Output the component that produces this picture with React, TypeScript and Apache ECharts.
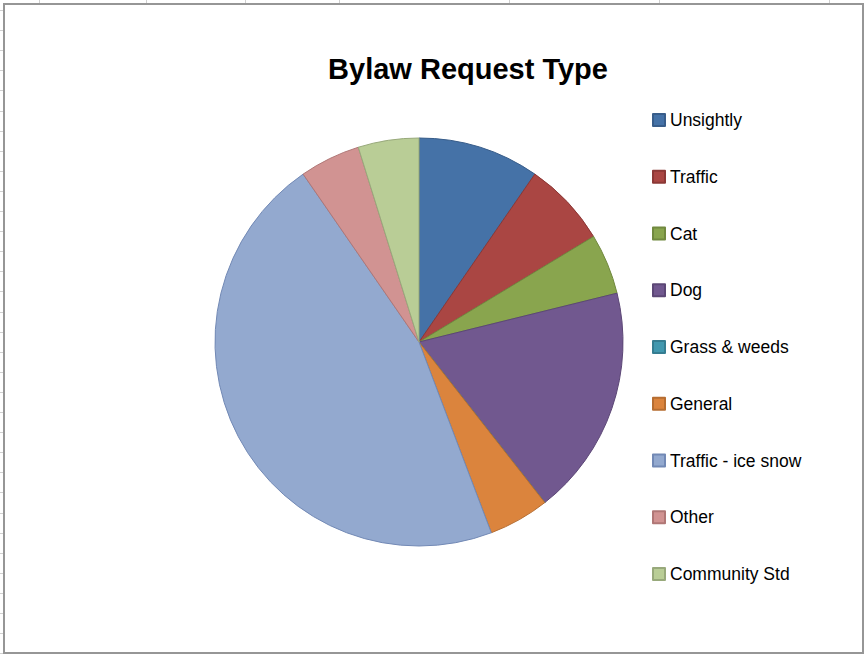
import React, { useEffect, useRef } from "react";
import * as echarts from "echarts";

const categories = [
  "Unsightly",
  "Traffic",
  "Cat",
  "Dog",
  "Grass & weeds",
  "General",
  "Traffic - ice snow",
  "Other",
  "Community Std",
];
const values = [10, 7, 5, 19, 0, 5, 48, 5, 5];
const fillColors = [
  "#4572A7",
  "#AA4643",
  "#89A54E",
  "#71588F",
  "#4198AF",
  "#DB843D",
  "#93A9CF",
  "#D19392",
  "#B9CD96",
];
const borderColors = [
  "#385D8A",
  "#8C3836",
  "#71893F",
  "#5C4776",
  "#357D91",
  "#B66D31",
  "#7289B5",
  "#B07776",
  "#98A97B",
];
const titleText = "Bylaw Request Type";

export default function App() {
  const ref = useRef<HTMLDivElement>(null);
  useEffect(() => {
    document.body.style.margin = "0";
    if (!ref.current) return;
    const chart = echarts.init(ref.current, undefined, { renderer: "svg" });
    const leftTicks: any[] = [];
    for (let k = 0; k < 33; k++) {
      const y = Math.round(10 + 20.1 * k) + 0.5;
      leftTicks.push({
        type: "line",
        shape: { x1: 0, y1: y, x2: 4, y2: y },
        style: { stroke: "#d0d0d0", lineWidth: 1 },
        silent: true,
      });
    }
    const topXs = [39, 146, 245, 339, 509, 659, 829];
    const topTicks = topXs.map((x) => ({
      type: "line",
      shape: { x1: x + 0.5, y1: 0, x2: x + 0.5, y2: 4 },
      style: { stroke: "#d0d0d0", lineWidth: 1 },
      silent: true,
    }));
    chart.setOption({
      animation: false,
      backgroundColor: "#ffffff",
      title: {
        text: titleText,
        left: 463,
        top: 49,
        textAlign: "center",
        textStyle: {
          fontFamily: "Liberation Sans",
          fontWeight: "bold",
          fontSize: 29,
          color: "#000000",
        },
      },
      legend: {
        orient: "vertical",
        left: 652,
        top: 110,
        padding: 0,
        itemWidth: 12,
        itemHeight: 12,
        itemGap: 36.75,
        icon: "rect",
        selectedMode: false,
        data: categories,
        textStyle: {
          fontFamily: "Liberation Sans",
          fontSize: 17.5,
          color: "#000000",
          lineHeight: 20,
        },
      },
      graphic: [
        ...leftTicks,
        ...topTicks,
        {
          type: "rect",
          shape: { x: 4, y: 4, width: 859, height: 649 },
          style: { fill: "none", stroke: "#969696", lineWidth: 2 },
          silent: true,
          z: 100,
        },
      ],
      series: [
        {
          type: "pie",
          center: [419, 342],
          radius: 204,
          startAngle: 90,
          clockwise: true,
          label: { show: false },
          labelLine: { show: false },
          emphasis: { disabled: true },
          data: categories.map((name, i) => ({
            name,
            value: values[i],
            itemStyle: {
              color: fillColors[i],
              borderColor: borderColors[i],
              borderWidth: 1,
            },
          })),
        },
      ],
    });
    return () => chart.dispose();
  }, []);
  return (
    <div
      ref={ref}
      style={{ position: "absolute", left: 0, top: 0, width: 866, height: 656 }}
    />
  );
}
